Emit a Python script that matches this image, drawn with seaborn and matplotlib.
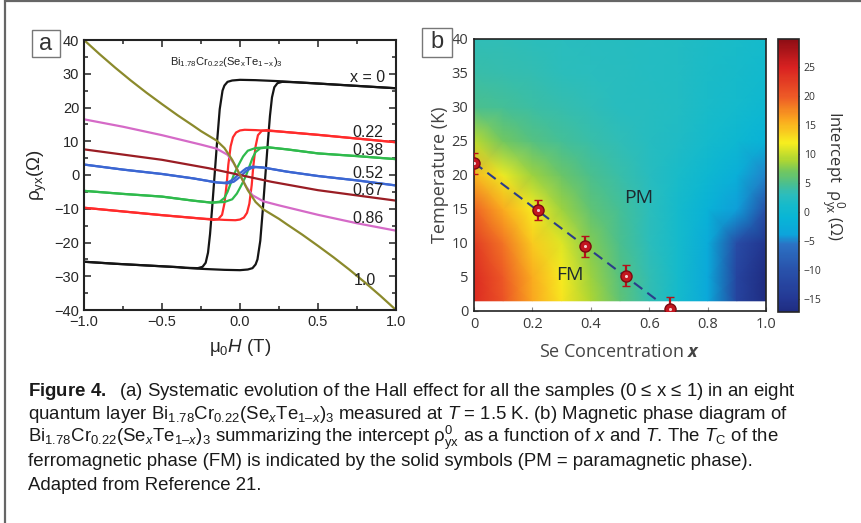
import numpy as np
import pandas as pd
import matplotlib
matplotlib.use('Agg')
import matplotlib.pyplot as plt
from matplotlib.colors import LinearSegmentedColormap
from matplotlib.lines import Line2D
from matplotlib.patches import Rectangle
from matplotlib.ticker import MultipleLocator
import seaborn as sns

# ---------------- panel a : Hall loops (rho_yx vs mu0H) ----------------
h_x0_down = [1.0, 0.75, 0.5, 0.35, 0.25, 0.1, 0.0, -0.05, -0.08, -0.1, -0.112, -0.13, -0.146,
             -0.162, -0.178, -0.192, -0.205, -0.22, -0.24, -0.27, -0.35, -0.4, -0.6, -0.8, -1.0]
r_x0_down = [25.7, 26.4, 27.1, 27.5, 27.8, 28.1, 28.2, 28.0, 27.6, 26.5, 25.0, 19.5, 10.4,
             0.5, -9.4, -17.5, -23.0, -26.0, -27.2, -27.6, -27.5, -27.3, -26.8, -26.3, -25.7]
h_x0_up = [-1.0, -0.8, -0.6, -0.4, -0.35, -0.25, -0.1, 0.0, 0.05, 0.08, 0.1, 0.112, 0.13, 0.146,
           0.162, 0.178, 0.192, 0.205, 0.22, 0.24, 0.27, 0.35, 0.5, 0.75, 1.0]
r_x0_up = [-25.7, -26.3, -26.8, -27.3, -27.5, -27.8, -28.1, -28.2, -28.0, -27.6, -26.5, -25.0, -19.5, -10.4,
           -0.5, 9.4, 17.5, 23.0, 26.0, 27.2, 27.6, 27.5, 27.1, 26.4, 25.7]

h_x22_down = [1.0, 0.75, 0.5, 0.25, 0.1, 0.03, 0.0, -0.025, -0.045, -0.06, -0.075, -0.085, -0.1,
              -0.115, -0.14, -0.17, -0.25, -0.5, -0.75, -1.0]
r_x22_down = [9.7, 10.8, 11.9, 12.9, 13.3, 13.4, 13.2, 12.6, 11.2, 8.5, 3.0, -2.5, -8.5,
              -11.8, -13.1, -13.3, -12.9, -11.9, -10.8, -9.7]
h_x22_up = [-1.0, -0.75, -0.5, -0.25, -0.1, -0.03, 0.0, 0.025, 0.045, 0.06, 0.075, 0.085, 0.1,
            0.115, 0.14, 0.17, 0.25, 0.5, 0.75, 1.0]
r_x22_up = [-9.7, -10.8, -11.9, -12.9, -13.3, -13.4, -13.2, -12.6, -11.2, -8.5, -3.0, 2.5, 8.5,
            11.8, 13.1, 13.3, 12.9, 11.9, 10.8, 9.7]

h_x38_down = [1.0, 0.75, 0.5, 0.3, 0.18, 0.1, 0.05, 0.02, 0.0, -0.02, -0.04, -0.06, -0.08, -0.1,
              -0.13, -0.18, -0.3, -0.5, -0.75, -1.0]
r_x38_down = [4.7, 5.6, 6.4, 7.6, 8.2, 8.0, 7.2, 5.5, 3.8, 2.0, 0.0, -2.5, -5.0, -6.8,
              -7.9, -8.2, -7.6, -6.4, -5.6, -4.7]
h_x38_up = [-1.0, -0.75, -0.5, -0.3, -0.18, -0.1, -0.05, -0.02, 0.0, 0.02, 0.04, 0.06, 0.08, 0.1,
            0.13, 0.18, 0.3, 0.5, 0.75, 1.0]
r_x38_up = [-4.7, -5.6, -6.4, -7.6, -8.2, -8.0, -7.2, -5.5, -3.8, -2.0, 0.0, 2.5, 5.0, 6.8,
            7.9, 8.2, 7.6, 6.4, 5.6, 4.7]

h_x52_down = [1.0, 0.75, 0.5, 0.3, 0.15, 0.08, 0.04, 0.02, 0.0, -0.02, -0.04, -0.07, -0.1,
              -0.15, -0.3, -0.5, -0.75, -1.0]
r_x52_down = [-3.1, -1.6, -0.3, 1.0, 2.2, 2.5, 2.0, 1.3, 0.5, -0.3, -1.2, -2.0, -2.3,
              -2.2, -1.0, 0.3, 1.6, 3.1]
h_x52_up = [-1.0, -0.75, -0.5, -0.3, -0.15, -0.08, -0.04, -0.02, 0.0, 0.02, 0.04, 0.07, 0.1,
            0.15, 0.3, 0.5, 0.75, 1.0]
r_x52_up = [3.1, 1.6, 0.3, -1.0, -2.2, -2.5, -2.0, -1.3, -0.5, 0.3, 1.2, 2.0, 2.3,
            2.2, 1.0, -0.3, -1.6, -3.1]

h_x67 = [-1.0, -0.5, -0.2, 0.0, 0.2, 0.5, 1.0]
r_x67 = [7.6, 4.5, 2.0, 0.0, -2.0, -4.5, -7.6]

h_x86 = [-1.0, -0.75, -0.5, -0.25, -0.15, -0.08, -0.04, 0.0, 0.04, 0.08, 0.15, 0.25, 0.5, 0.75, 1.0]
r_x86 = [16.5, 14.3, 11.8, 9.0, 7.8, 6.0, 3.5, 0.0, -3.5, -6.0, -7.8, -9.0, -11.8, -14.3, -16.5]

h_x100 = [-1.0, -0.9, -0.8, -0.7, -0.6, -0.5, -0.4, -0.3, -0.25, -0.2, -0.15, -0.1, -0.05, 0.0,
          0.05, 0.1, 0.15, 0.2, 0.25, 0.3, 0.4, 0.5, 0.6, 0.7, 0.8, 0.9, 1.0]
r_x100 = [40.0, 35.8, 31.8, 28.0, 24.4, 21.0, 17.7, 14.6, 13.0, 11.6, 10.2, 8.0, 4.5, 0.0,
          -4.5, -8.0, -10.2, -11.6, -13.0, -14.6, -17.7, -21.0, -24.4, -28.0, -31.8, -35.8, -40.0]

sample_names = ['0', '0.22', '0.38', '0.52', '0.67', '0.86', '1.0']
sample_colors = ['#151515', '#ff2b2b', '#2fba4c', '#3b66d2', '#9a1d24', '#d56ac7', '#8b8a2c']
curve_labels = ['x = 0', '0.22', '0.38', '0.52', '0.67', '0.86', '1.0']
label_h = [0.82, 0.82, 0.82, 0.82, 0.82, 0.82, 0.80]
label_rho = [28.9, 12.7, 7.2, 0.3, -4.7, -12.8, -31.3]

# ---------------- panel b : phase diagram ----------------
se_grid = [0.0, 0.1, 0.2, 0.3, 0.4, 0.5, 0.6, 0.7, 0.8, 0.9, 1.0]
temp_grid = [1.5, 5, 10, 15, 20, 25, 30, 35, 40]
intercept = [
    [24.0, 20.5, 16.0, 12.5, 9.0, 6.0, 3.5, 1.0, -3.0, -12.5, -17.0],
    [24.0, 20.0, 15.5, 12.0, 8.5, 5.5, 3.5, 1.0, -3.0, -12.5, -17.0],
    [22.5, 18.5, 14.0, 11.0, 7.5, 5.0, 3.0, 1.0, -2.5, -11.0, -15.5],
    [19.5, 15.5, 12.0, 8.5, 6.0, 4.5, 3.0, 1.0, -1.5, -4.0, -10.5],
    [15.0, 11.5, 8.5, 6.5, 5.0, 3.8, 2.8, 1.5, 0.0, -2.0, -5.0],
    [9.5, 7.0, 5.5, 4.5, 3.8, 3.2, 2.6, 2.0, 1.0, 0.0, -1.5],
    [5.0, 4.5, 4.0, 3.6, 3.2, 2.8, 2.5, 2.1, 1.5, 0.8, 0.0],
    [3.8, 3.6, 3.4, 3.1, 2.9, 2.7, 2.4, 2.1, 1.7, 1.2, 0.7],
    [3.3, 3.2, 3.0, 2.9, 2.7, 2.5, 2.3, 2.1, 1.8, 1.5, 1.1],
]
tc_x = [0.0, 0.22, 0.38, 0.52, 0.67]
tc_T = [21.7, 14.85, 9.5, 5.2, 0.25]
tc_err = [1.5, 1.5, 1.5, 1.5, 1.8]
fit_x = [0.0, 0.63]
fit_T = [21.8, 1.5]
se_ticks = [0, 0.2, 0.4, 0.6, 0.8, 1.0]
se_ticklabels = ['0', '0.2', '0.4', '0.6', '0.8', '1.0']
cbar_ticks = [-15, -10, -5, 0, 5, 10, 15, 20, 25]

caption = [
    r'$\mathbf{Figure\ 4.}$  (a) Systematic evolution of the Hall effect for all the samples (0 ≤ x ≤ 1) in an eight',
    r'quantum layer Bi$_{1.78}$Cr$_{0.22}$(Se$_\mathit{x}$Te$_{1–\mathit{x}}$)$_3$ measured at $\mathit{T}$ = 1.5 K. (b) Magnetic phase diagram of',
    r'Bi$_{1.78}$Cr$_{0.22}$(Se$_\mathit{x}$Te$_{1–\mathit{x}}$)$_3$ summarizing the intercept $ρ^{0}_{yx}$ as a function of $\mathit{x}$ and $\mathit{T}$. The $\mathit{T}_\mathrm{C}$ of the',
    'ferromagnetic phase (FM) is indicated by the solid symbols (PM = paramagnetic phase).',
    'Adapted from Reference 21.',
]

sns.set_style('ticks')
plt.rcParams['font.family'] = ['Liberation Sans', 'DejaVu Sans']
plt.rcParams['mathtext.fontset'] = 'custom'
plt.rcParams['mathtext.default'] = 'regular'
plt.rcParams['mathtext.rm'] = 'Liberation Sans'
plt.rcParams['mathtext.it'] = 'Liberation Sans:italic'
plt.rcParams['mathtext.bf'] = 'Liberation Sans:bold'
plt.rcParams['mathtext.bfit'] = 'Open Sans:italic:bold'

W, H = 861, 523
fig = plt.figure(figsize=(W / 100, H / 100), dpi=100)


def px_box(x0, y0, x1, y1):
    return [x0 / W, 1 - y1 / H, (x1 - x0) / W, (y1 - y0) / H]


# ---- panel a ----
ax_a = fig.add_axes(px_box(84, 40, 396, 310))
curves = [
    ('0', 'd', h_x0_down, r_x0_down), ('0', 'u', h_x0_up, r_x0_up),
    ('0.22', 'd', h_x22_down, r_x22_down), ('0.22', 'u', h_x22_up, r_x22_up),
    ('0.38', 'd', h_x38_down, r_x38_down), ('0.38', 'u', h_x38_up, r_x38_up),
    ('0.52', 'd', h_x52_down, r_x52_down), ('0.52', 'u', h_x52_up, r_x52_up),
    ('0.67', 'd', h_x67, r_x67),
    ('0.86', 'd', h_x86, r_x86),
    ('1.0', 'd', h_x100, r_x100),
]
rows = []
for name, branch, hs, rs in curves:
    for hh, rr in zip(hs, rs):
        rows.append((name, name + branch, hh, rr))
df = pd.DataFrame(rows, columns=['x', 'branch', 'H', 'rho'])
sns.lineplot(data=df, x='H', y='rho', hue='x', units='branch', estimator=None, sort=False,
             hue_order=sample_names, palette=dict(zip(sample_names, sample_colors)),
             lw=1.6, legend=False, ax=ax_a)
ax_a.set_xlim(-1, 1)
ax_a.set_ylim(-40, 40)
ax_a.xaxis.set_major_locator(MultipleLocator(0.5))
ax_a.xaxis.set_minor_locator(MultipleLocator(0.25))
ax_a.yaxis.set_major_locator(MultipleLocator(10))
ax_a.yaxis.set_minor_locator(MultipleLocator(5))
ax_a.tick_params(which='both', direction='in', top=True, right=True, labelsize=10.5, width=1.2, color='#333333')
ax_a.tick_params(which='major', length=5)
ax_a.tick_params(which='minor', length=3)
for sp in ax_a.spines.values():
    sp.set_linewidth(1.5)
    sp.set_color('#222222')
ax_a.set_xlabel(r'$\mu_0\mathit{H}$ (T)', fontsize=13.5, labelpad=6)
ax_a.set_ylabel(r'$ρ_{yx}$(Ω)', fontsize=13.5, labelpad=4)
for lab, hx, ry in zip(curve_labels, label_h, label_rho):
    ax_a.text(hx, ry, lab, fontsize=11.5, ha='center', va='center', color='#222222')
ax_a.text(-0.09, 33.6, r'Bi$_{1.78}$Cr$_{0.22}$(Se$_x$Te$_{1-x}$)$_3$', fontsize=8,
          ha='center', va='center', color='#222222')

# ---- panel b ----
ax_b = fig.add_axes(px_box(474, 39, 766, 311))
cmap = LinearSegmentedColormap.from_list('muted_jet', [
    (0.000, (0.12, 0.17, 0.50)),
    (0.047, (0.14, 0.22, 0.58)),
    (0.153, (0.16, 0.32, 0.67)),
    (0.249, (0.17, 0.45, 0.77)),
    (0.281, (0.05, 0.64, 0.86)),
    (0.345, (0.03, 0.71, 0.84)),
    (0.387, (0.08, 0.73, 0.80)),
    (0.430, (0.17, 0.74, 0.74)),
    (0.472, (0.30, 0.75, 0.55)),
    (0.515, (0.45, 0.78, 0.37)),
    (0.557, (0.68, 0.84, 0.20)),
    (0.621, (0.97, 0.93, 0.12)),
    (0.706, (0.98, 0.65, 0.12)),
    (0.791, (0.93, 0.35, 0.15)),
    (0.898, (0.85, 0.13, 0.13)),
    (1.000, (0.55, 0.05, 0.08)),
])
mesh = ax_b.pcolormesh(se_grid, temp_grid, np.array(intercept), shading='gouraud',
                       cmap=cmap, vmin=-17.2, vmax=29.8, rasterized=True)
ax_b.plot(fit_x, fit_T, ls=(0, (5, 3)), color='#2a3d8a', lw=1.5, zorder=3)
ax_b.errorbar(tc_x, tc_T, yerr=tc_err, fmt='o', ms=8, mfc='#c3161f', mec='#7c0a10', mew=1,
              ecolor='#b3121b', elinewidth=1.6, capsize=3, capthick=1.6, zorder=4)
ax_b.scatter(tc_x, tc_T, s=5, color='white', alpha=0.8, zorder=5, linewidths=0)
ax_b.set_xlim(0, 1)
ax_b.set_ylim(0, 40)
ax_b.set_xticks(se_ticks)
ax_b.set_xticklabels(se_ticklabels)
ax_b.yaxis.set_major_locator(MultipleLocator(5))
ax_b.tick_params(direction='in', length=3, labelsize=10.5, labelcolor='#3a3a3a', color='#888888',
                 pad=4)
for lab in ax_b.get_xticklabels() + ax_b.get_yticklabels():
    lab.set_family(['Open Sans', 'DejaVu Sans'])
for sp in ax_b.spines.values():
    sp.set_linewidth(1.2)
    sp.set_color('#222222')
ax_b.set_xlabel(r'Se Concentration $\mathbfit{x}$', fontsize=13, color='#444444',
                family=['Open Sans', 'DejaVu Sans'], labelpad=8)
ax_b.set_ylabel('Temperature (K)', fontsize=13, color='#444444',
                family=['Open Sans', 'DejaVu Sans'], labelpad=2)
ax_b.text(0.563, 16.6, 'PM', fontsize=14, ha='center', va='center', color='#1d2a30',
          family=['Open Sans', 'DejaVu Sans'])
ax_b.text(0.329, 5.3, 'FM', fontsize=14, ha='center', va='center', color='#1d2a30',
          family=['Open Sans', 'DejaVu Sans'])

cax = fig.add_axes(px_box(778, 39, 799, 312))
cbar = fig.colorbar(mesh, cax=cax)
cbar.set_ticks(cbar_ticks)
cbar.outline.set_linewidth(1.2)
cax.tick_params(direction='in', length=3, left=True, right=True, labelsize=7.5,
                labelcolor='#333333', color='#444444')
for lab in cax.get_yticklabels():
    lab.set_family(['Open Sans', 'DejaVu Sans'])
cbar.set_label(r'Intercept  $ρ^{0}_{yx}$ (Ω)', rotation=270, fontsize=12, color='#333333',
               family=['Open Sans', 'DejaVu Sans'], labelpad=18)

# ---- panel tags ----
for tag, (x0, y0, x1, y1) in [('a', (32, 30, 60, 57)), ('b', (422, 28, 452, 57))]:
    fig.add_artist(Rectangle((x0 / W, 1 - y1 / H), (x1 - x0) / W, (y1 - y0) / H,
                             transform=fig.transFigure, fill=False, ec='#777777', lw=1.0))
    fig.text((x0 + x1) / 2 / W, 1 - (y0 + y1) / 2 / H, tag, fontsize=17, ha='center', va='center',
             color='#333333')

# ---- frame ----
fig.add_artist(Line2D([5 / W, 5 / W], [0, 1], transform=fig.transFigure, color='#666666', lw=1.6))
fig.add_artist(Line2D([5 / W, 1], [1 - 1.2 / H, 1 - 1.2 / H], transform=fig.transFigure,
                      color='#666666', lw=1.6))

# ---- caption ----
for i, line in enumerate(caption):
    fig.text(28 / W, 1 - (391 + 23.5 * i) / H, line, fontsize=13.4, ha='left', va='center',
             color='#1a1a1a')

fig.savefig('out.png', dpi=100)
